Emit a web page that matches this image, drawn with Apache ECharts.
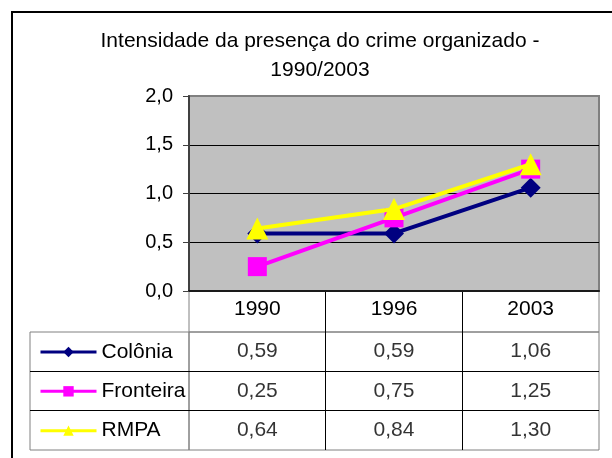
<!DOCTYPE html>
<html>
<head>
<meta charset="utf-8">
<script src="https://cdn.jsdelivr.net/npm/echarts@6/dist/echarts.min.js"></script>
<style>
html, body { margin: 0; padding: 0; background: #fff; }
#chart { width: 612px; height: 458px; }
</style>
</head>
<body>
<div id="chart"></div>
<script>
// ---- data ----
var categories = ['1990', '1996', '2003'];
var seriesNames = ['Colônia', 'Fronteira', 'RMPA'];
var colonia = [0.59, 0.59, 1.06];
var fronteira = [0.25, 0.75, 1.25];
var rmpa = [0.64, 0.84, 1.30];
var titleText = 'Intensidade da presença do crime organizado -\n1990/2003';

var allValues = [colonia, fronteira, rmpa];
var colors = ['#000080', '#FF00FF', '#FFFF00'];
var symbols = ['diamond', 'rect', 'triangle'];
var symbolSizes = [20, 19, [22, 22]];

function fmt(v) { return v.toFixed(2).replace('.', ','); }

var tableData = [];
allValues.forEach(function (vals, i) {
  vals.forEach(function (v, j) {
    tableData.push([categories[j], seriesNames[i], v]);
  });
});

var FONT = 'Liberation Sans, Arial, sans-serif';

var lineSeries = allValues.map(function (vals, i) {
  return {
    name: seriesNames[i],
    type: 'line',
    xAxisIndex: 0,
    yAxisIndex: 0,
    data: vals,
    symbol: symbols[i],
    symbolSize: symbolSizes[i],
    showAllSymbol: true,
    lineStyle: { color: colors[i], width: 4 },
    itemStyle: { color: colors[i] },
    emphasis: { disabled: true },
    animation: false,
    z: 3 + i
  };
});

var chart = echarts.init(document.getElementById('chart'), null, { renderer: 'canvas' });
chart.setOption({
  backgroundColor: '#ffffff',
  animation: false,
  textStyle: { fontFamily: FONT },
  legend: {
    data: seriesNames,
    orient: 'vertical',
    left: 34,
    top: 336.5,
    itemGap: 18.33,
    itemWidth: 56,
    itemHeight: 13,
    selectedMode: false,
    lineStyle: { width: 3 },
    textStyle: { fontFamily: FONT, fontSize: 21, lineHeight: 21, color: '#000' }
  },
  graphic: [{
    type: 'rect',
    shape: { x: 12, y: 12, width: 640, height: 480 },
    style: { fill: 'none', stroke: '#000', lineWidth: 2 },
    silent: true,
    z: 100
  }, {
    type: 'text',
    x: 320,
    y: 26.5,
    silent: true,
    style: {
      text: titleText,
      fill: '#000',
      font: '21px ' + FONT,
      lineHeight: 29,
      align: 'center',
      verticalAlign: 'top'
    }
  }],
  grid: [
    { // plot
      left: 189, right: 13, top: 96, bottom: 167,
      show: true, backgroundColor: '#C0C0C0', borderColor: '#808080', borderWidth: 2
    },
    { // table values
      left: 189, right: 13, top: 332, bottom: 8,
      show: true, backgroundColor: 'transparent', borderColor: '#808080', borderWidth: 1
    },
    { // legend column
      left: 30, width: 159, top: 332, bottom: 8,
      show: true, backgroundColor: 'transparent', borderColor: '#808080', borderWidth: 1
    },
    { // header row
      left: 189, right: 13, top: 291, height: 41,
      show: true, backgroundColor: 'transparent', borderColor: '#808080', borderWidth: 1
    }
  ],
  xAxis: [
    {
      gridIndex: 0, type: 'category', data: categories, boundaryGap: true,
      axisLine: { show: true, lineStyle: { color: '#1a1a1a', width: 2 } },
      axisTick: { show: false },
      axisLabel: { show: true, margin: 8, fontSize: 21, color: '#000', fontFamily: FONT, interval: 0 },
      splitLine: { show: false }
    },
    {
      gridIndex: 1, type: 'category', data: categories, boundaryGap: true,
      axisLine: { show: false }, axisTick: { show: false }, axisLabel: { show: false },
      splitLine: { show: true, interval: 0, showMinLine: false, showMaxLine: false, lineStyle: { color: '#000', width: 1 } }
    },
    {
      gridIndex: 2, type: 'value', show: false, min: 0, max: 1,
      splitLine: { show: false }
    },
    {
      gridIndex: 3, type: 'category', data: categories, boundaryGap: true,
      axisLine: { show: false }, axisTick: { show: false }, axisLabel: { show: false },
      splitLine: { show: true, interval: 0, showMinLine: false, showMaxLine: false, lineStyle: { color: '#000', width: 1 } }
    }
  ],
  yAxis: [
    {
      gridIndex: 0, type: 'value', min: 0, max: 2, interval: 0.5,
      axisLine: { show: true, lineStyle: { color: '#404040', width: 2 } },
      axisTick: { show: true, length: 6, inside: false, lineStyle: { color: '#404040', width: 1 } },
      axisLabel: {
        show: true, margin: 16, fontSize: 20, color: '#000', fontFamily: FONT,
        formatter: function (v) { return v.toFixed(1).replace('.', ','); }
      },
      splitLine: { show: true, showMinLine: false, showMaxLine: false, lineStyle: { color: '#000', width: 1 } }
    },
    {
      gridIndex: 1, type: 'category', data: seriesNames, inverse: true,
      axisLine: { show: false }, axisTick: { show: false }, axisLabel: { show: false },
      splitLine: { show: true, interval: 0, showMinLine: false, showMaxLine: false, lineStyle: { color: '#000', width: 1 } }
    },
    {
      gridIndex: 2, type: 'category', data: seriesNames, inverse: true,
      axisLine: { show: false }, axisTick: { show: false }, axisLabel: { show: false },
      splitLine: { show: true, interval: 0, showMinLine: false, showMaxLine: false, lineStyle: { color: '#000', width: 1 } }
    },
    {
      gridIndex: 3, type: 'value', show: false, min: 0, max: 1,
      splitLine: { show: false }
    }
  ],
  series: lineSeries.concat([{
    name: 'tabela',
    type: 'scatter',
    xAxisIndex: 1,
    yAxisIndex: 1,
    data: tableData,
    symbolSize: 1,
    itemStyle: { color: 'transparent' },
    silent: true,
    label: {
      show: true, position: 'inside', fontSize: 21, color: '#000', fontFamily: FONT,
      formatter: function (p) { return fmt(p.value[2]); }
    }
  }])
});
</script>
</body>
</html>
